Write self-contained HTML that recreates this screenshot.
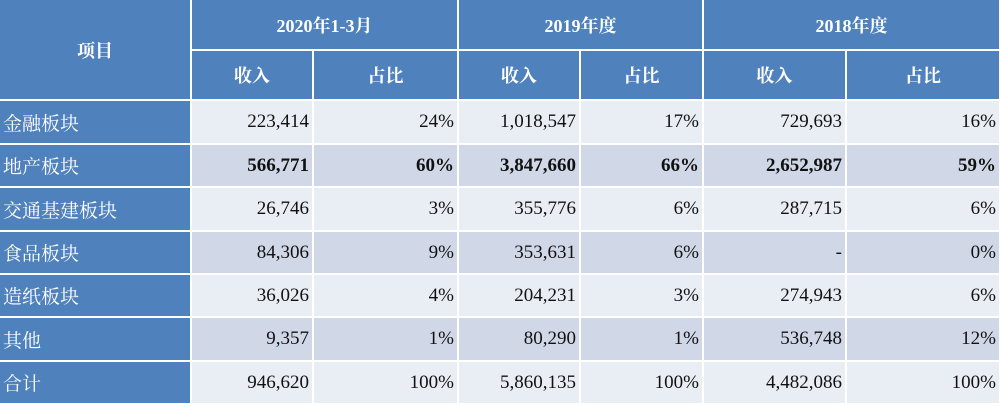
<!DOCTYPE html>
<html><head><meta charset="utf-8"><style>
body{margin:0;width:1000px;height:407px;background:#fff;overflow:hidden;font-family:"Liberation Serif","Noto Serif CJK SC",serif;}
.c{position:absolute;box-sizing:border-box;display:flex;align-items:center;font-size:19px;color:#111;}
.h{background:#4f81bd;color:#fff;justify-content:center;font-weight:bold;font-size:18px;}
.l{background:#4f81bd;color:#fff;padding-left:3px;font-size:19px;}
.n{justify-content:flex-end;padding-right:3px;}
.a{background:#e9edf4}.b{background:#d0d8e8}
.bold{font-weight:bold}
</style></head><body>
<div id="t"></div>
<script>
const colX=[0,191,313,458,580,703,846,1000];
const rowY=[0,50,100,144,187,231,274,317,361,404];
const labels=["金融板块","地产板块","交通基建板块","食品板块","造纸板块","其他","合计"];
const data=[
["223,414","24%","1,018,547","17%","729,693","16%"],
["566,771","60%","3,847,660","66%","2,652,987","59%"],
["26,746","3%","355,776","6%","287,715","6%"],
["84,306","9%","353,631","6%","-","0%"],
["36,026","4%","204,231","3%","274,943","6%"],
["9,357","1%","80,290","1%","536,748","12%"],
["946,620","100%","5,860,135","100%","4,482,086","100%"]];
const periods=["2020年1-3月","2019年度","2018年度"];
const t=document.getElementById('t');
function cell(x0,y0,x1,y1,cls,txt,name){
 const d=document.createElement('div');
 d.className='c '+cls;
 d.style.left=(x0+(x0?1:0))+'px';d.style.top=(y0+(y0?1:0))+'px';
 d.style.width=(x1-x0-(x0?1:0)-1)+'px';d.style.height=(y1-y0-(y0?1:0)-1)+'px';
 d.textContent=txt;
 
 
 t.appendChild(d);
}
cell(0,0,191,100,'h','项目','item-header');
periods.forEach((p,i)=>{
 cell(colX[1+2*i],0,colX[3+2*i],50,'h',p,'period-header');
 cell(colX[1+2*i],50,colX[2+2*i],100,'h','收入','revenue-header');
 cell(colX[2+2*i],50,colX[3+2*i],100,'h','占比','share-header');
});
labels.forEach((lab,r)=>{
 const y0=rowY[r+2],y1=rowY[r+3];
 cell(0,y0,191,y1,'l',lab,'row-label');
 const bg=(r%2?'b':'a')+(r===1?' bold':'');
 data[r].forEach((v,c)=>cell(colX[c+1],y0,colX[c+2],y1,'n '+bg,v,c%2?'share-value':'revenue-value'));
});
</script>
</body></html>
